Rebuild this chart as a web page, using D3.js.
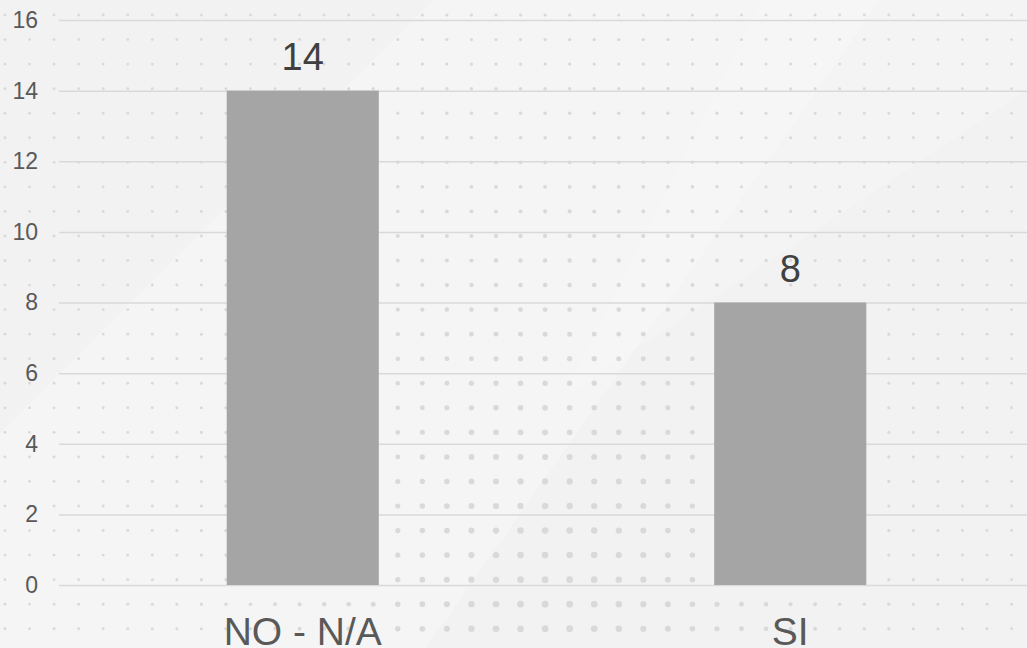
<!DOCTYPE html>
<html>
<head>
<meta charset="utf-8">
<script src="https://cdn.jsdelivr.net/npm/d3@7"></script>
<style>
  html, body { margin: 0; padding: 0; background: #f2f2f2; }
  svg { display: block; font-family: Arial, "Liberation Sans", sans-serif; }
</style>
</head>
<body>
<svg id="chart" width="1027" height="648"></svg>
<script>
// chart data
var categories = ["NO - N/A", "SI"];
var counts = [14, 8];
var yTicks = [0, 2, 4, 6, 8, 10, 12, 14, 16];

var width = 1027, height = 648;
var svg = d3.select("#chart");

// background: flat grey, soft light diagonal bands, halftone dots
svg.append("rect")
   .attr("width", width).attr("height", height)
   .attr("fill", "#f2f2f2");

var bands = [
   [[433, 0], [880, 0], [426, 648], [-215, 648]],
   [[760, 0], [1027, 0], [1027, 90], [560, 400]]
];
svg.selectAll(".band")
   .data(bands)
   .join("path")
   .attr("class", "band")
   .attr("d", d => d3.line()(d) + "Z")
   .attr("fill", "#fbfbfb")
   .attr("opacity", (d, i) => i == 0 ? 0.4 : 0.25);

var dots = [];
for (var gy = 15; gy < height; gy += 24.55) {
   for (var gx = 5; gx < width; gx += 24.55) {
      var dx = (gx - 550) / 230, dy = (gy - 640) / 400;
      dots.push({ x: gx, y: gy, r: 1.4 + 2.0 * Math.exp(-(dx * dx) - (dy * dy)) });
   }
}
svg.selectAll(".dot")
   .data(dots)
   .join("circle")
   .attr("class", "dot")
   .attr("cx", d => d.x)
   .attr("cy", d => d.y)
   .attr("r", d => d.r)
   .attr("fill", "#d6d6d6")
   .attr("opacity", 0.9);

// scales
const x = d3.scaleBand()
   .domain(categories)
   .range([59, 1034])
   .paddingInner(0.688)
   .paddingOuter(0.344);

const y = d3.scaleLinear()
   .domain([0, 16])
   .range([585, 20]);

// gridlines
svg.append("g")
   .attr("transform", "translate(59,0)")
   .call(d3.axisLeft(y).tickValues(yTicks).tickSize(-(width - 59)).tickFormat(""))
   .call(g => g.select(".domain").remove())
   .call(g => g.selectAll(".tick line").attr("stroke", "#d9d9d9").attr("stroke-width", 1.5));

// y tick labels
svg.append("g")
   .attr("transform", "translate(38,0)")
   .call(d3.axisLeft(y).tickValues(yTicks).tickSize(0).tickPadding(0))
   .call(g => g.select(".domain").remove())
   .call(g => g.selectAll(".tick text")
      .attr("fill", "#595959")
      .attr("font-size", "23px")
      .attr("font-family", "Arial, 'Liberation Sans', sans-serif"));

// bars
svg.selectAll(".bar")
   .data(counts)
   .join("rect")
   .attr("class", "bar")
   .attr("x", (d, i) => x(categories[i]))
   .attr("width", x.bandwidth())
   .attr("y", d => y(d))
   .attr("height", d => y(0) - y(d))
   .attr("fill", "#a5a5a5");

// value labels
svg.selectAll(".value")
   .data(counts)
   .join("text")
   .attr("class", "value")
   .attr("x", (d, i) => x(categories[i]) + x.bandwidth() / 2)
   .attr("y", d => y(d) - 20.5)
   .attr("text-anchor", "middle")
   .attr("font-size", "38px")
   .attr("fill", "#404040")
   .text(d => d);

// category labels
svg.selectAll(".cat")
   .data(categories)
   .join("text")
   .attr("class", "cat")
   .attr("x", d => x(d) + x.bandwidth() / 2)
   .attr("y", 645)
   .attr("text-anchor", "middle")
   .attr("font-size", "39px")
   .attr("fill", "#595959")
   .text(d => d);
</script>
</body>
</html>
